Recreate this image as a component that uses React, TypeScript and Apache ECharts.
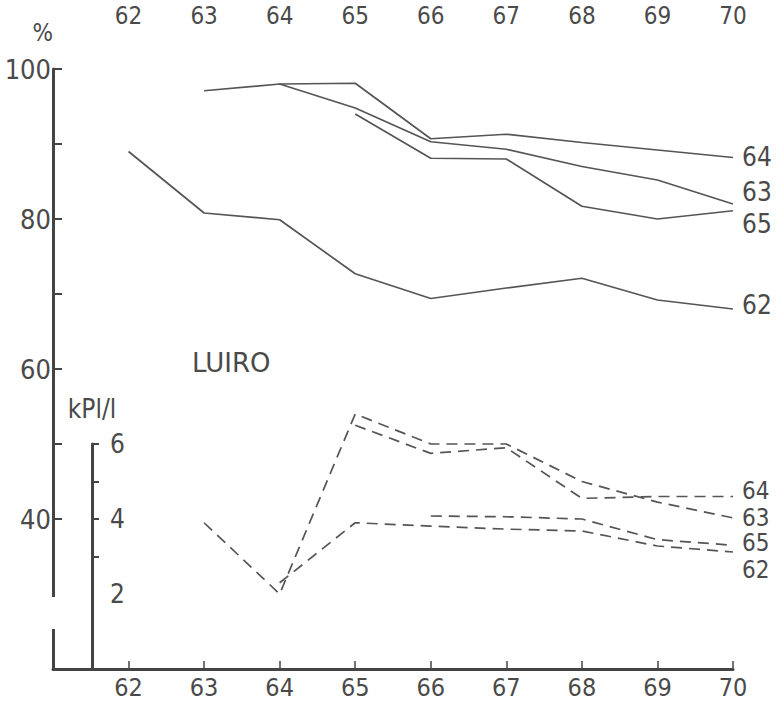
import React, { useEffect, useRef } from "react";
import * as echarts from "echarts";

// x positions (years)
const years = [62, 63, 64, 65, 66, 67, 68, 69, 70];
const tickYears = [62, 63, 64, 65, 66, 67, 68, 69, 70];

// % series (solid lines)
const pct62 = [89.0, 80.8, 79.9, 72.7, 69.4, 70.8, 72.1, 69.2, 68.0];
const pct63 = [null, 97.1, 98.0, 94.8, 90.3, 89.3, 87.0, 85.2, 82.0];
const pct64 = [null, null, 98.0, 98.1, 90.7, 91.3, 90.2, 89.2, 88.2];
const pct65 = [null, null, null, 94.0, 88.1, 88.0, 81.7, 80.0, 81.1];

// kPl/l series (dashed lines)
const kpl63 = [null, 3.9, 2.0, 6.8, 6.0, 6.0, 5.0, 4.45, 4.03];
const kpl64 = [null, null, null, 6.5, 5.75, 5.9, 4.55, 4.6, 4.6];
const kpl65 = [null, null, null, null, 4.08, 4.06, 4.0, 3.45, 3.3];
const kpl62 = [null, null, 2.3, 3.9, 3.81, 3.73, 3.68, 3.28, 3.12];

// axis ticks / labels
const pctTicks = [40, 50, 60, 70, 80, 90, 100];
const pctLabels = [40, 60, 80, 100];
const kplTicks = [3, 4, 5, 6];
const kplLabels = [2, 4, 6];

const FONT = "'DejaVu Sans Condensed', 'DejaVu Sans', sans-serif";
const INK = "#4a4a4a";
const LINE = "#555";

function pairs(vals: (number | null)[]) {
  const out: [number, number][] = [];
  vals.forEach((v, i) => {
    if (v !== null) out.push([years[i], v]);
  });
  return out;
}

function solid(name: string, vals: (number | null)[], dy: number) {
  return {
    type: "line",
    name,
    xAxisIndex: 0,
    yAxisIndex: 0,
    data: pairs(vals),
    symbol: "none",
    lineStyle: { color: LINE, width: 1.7 },
    endLabel: {
      show: true,
      formatter: name,
      distance: 9,
      offset: [0, dy],
      fontSize: 26,
      color: INK,
      fontFamily: FONT,
    },
  };
}

function dashed(name: string, vals: (number | null)[], dy: number) {
  return {
    type: "line",
    name,
    xAxisIndex: 1,
    yAxisIndex: 1,
    data: pairs(vals),
    symbol: "none",
    clip: false,
    lineStyle: { color: LINE, width: 1.7, type: [11, 7] },
    endLabel: {
      show: true,
      formatter: name,
      distance: 9,
      offset: [0, dy],
      fontSize: 24,
      color: INK,
      fontFamily: FONT,
    },
  };
}

export default function App() {
  const ref = useRef<HTMLDivElement>(null);
  useEffect(() => {
    if (!ref.current) return;
    const chart = echarts.init(ref.current, undefined, { renderer: "svg" });
    const labelStyle = { fontSize: 26, color: INK, fontFamily: FONT };
    chart.setOption({
      animation: false,
      backgroundColor: "#fff",
      grid: [
        { left: 53, right: 47, top: 69, bottom: 32 },
        { left: 53, right: 47, top: 444, bottom: 32 },
      ],
      xAxis: [
        {
          type: "value",
          gridIndex: 0,
          min: 61,
          max: 70,
          position: "bottom",
          axisLine: { show: true, lineStyle: { color: "#444", width: 3 } },
          axisTick: {
            show: true,
            inside: true,
            length: 8,
            lineStyle: { color: "#444", width: 1.5 },
            customValues: tickYears,
          },
          axisLabel: { ...labelStyle, fontSize: 25, margin: 6, customValues: tickYears },
          splitLine: { show: false },
        },
        {
          type: "value",
          gridIndex: 1,
          min: 61,
          max: 70,
          show: false,
        },
        {
          type: "value",
          gridIndex: 0,
          min: 61,
          max: 70,
          position: "top",
          axisLine: { show: false },
          axisTick: { show: false },
          axisLabel: { ...labelStyle, fontSize: 24, margin: 41, customValues: tickYears },
          splitLine: { show: false },
        },
      ],
      yAxis: [
        {
          type: "value",
          gridIndex: 0,
          min: 20,
          max: 100,
          position: "left",
          name: "%",
          nameLocation: "end",
          nameGap: 24,
          nameTextStyle: { fontSize: 24, color: INK, fontFamily: FONT, align: "right" },
          axisLine: { show: true, lineStyle: { color: "#444", width: 3 } },
          axisTick: {
            show: true,
            inside: true,
            length: 9,
            lineStyle: { color: "#444", width: 2 },
            customValues: pctTicks,
          },
          axisLabel: { ...labelStyle, fontSize: 27, margin: 2, customValues: pctLabels },
          splitLine: { show: false },
        },
        {
          type: "value",
          gridIndex: 1,
          min: 0,
          max: 6,
          position: "left",
          offset: -39,
          name: "kPl/l",
          nameLocation: "end",
          nameGap: 22,
          nameTextStyle: { fontSize: 26, color: INK, fontFamily: FONT },
          axisLine: { show: true, lineStyle: { color: "#444", width: 3 } },
          axisTick: {
            show: true,
            inside: true,
            length: 7,
            lineStyle: { color: "#444", width: 2 },
            customValues: kplTicks,
          },
          axisLabel: { ...labelStyle, inside: true, margin: 18, customValues: kplLabels },
          splitLine: { show: false },
        },
      ],
      graphic: [
        {
          type: "rect",
          left: 46,
          top: 597,
          z: 100,
          shape: { width: 14, height: 32 },
          style: { fill: "#fff" },
        },
        {
          type: "text",
          left: 192,
          top: 350,
          style: { text: "LUIRO", fontSize: 26, fill: INK, fontFamily: "'DejaVu Sans', sans-serif" },
        },
      ],
      series: [
        solid("64", pct64, -1),
        solid("63", pct63, -12),
        solid("65", pct65, 13),
        solid("62", pct62, -4),
        dashed("64", kpl64, -6),
        dashed("63", kpl63, 0),
        dashed("65", kpl65, -2),
        dashed("62", kpl62, 18),
      ],
    });
    return () => chart.dispose();
  }, []);
  return (
    <div
      ref={ref}
      style={{ position: "fixed", left: 0, top: 0, width: 780, height: 701 }}
    />
  );
}
